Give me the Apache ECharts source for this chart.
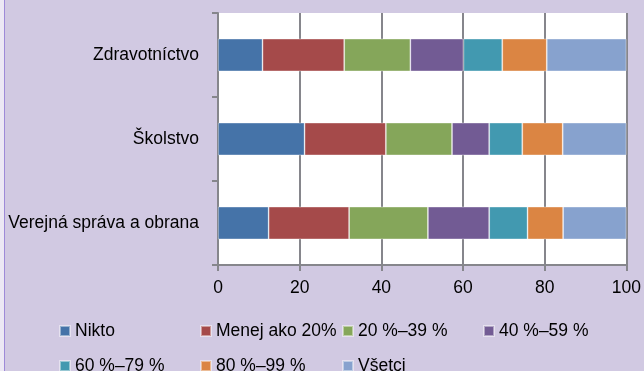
<!DOCTYPE html>
<html>
<head>
<meta charset="utf-8">
<script src="https://cdn.jsdelivr.net/npm/echarts@6/dist/echarts.min.js"></script>
<style>
  html, body { margin: 0; padding: 0; background: #D1C9E2; }
  #chart { width: 644px; height: 371px; }
</style>
</head>
<body>
<div id="chart"></div>
<script>
// Sectors, listed bottom-to-top as the category axis draws them
const categories = ['Verejná správa a obrana', 'Školstvo', 'Zdravotníctvo'];

// Share of respondents (%) for each answer band
const nikto     = [12.4, 21.2, 10.9];
const menej20   = [19.7, 19.9, 20.0];
const p20_39    = [19.3, 16.2, 16.2];
const p40_59    = [15.0,  9.1, 13.0];
const p60_79    = [ 9.4,  8.1,  9.5];
const p80_99    = [ 8.7,  9.9, 10.9];
const vsetci    = [15.5, 15.6, 19.5];

const seriesNames = ['Nikto', 'Menej ako 20%', '20 %–39 %', '40 %–59 %', '60 %–79 %', '80 %–99 %', 'Všetci'];
const seriesValues = [nikto, menej20, p20_39, p40_59, p60_79, p80_99, vsetci];
const colors = ['#4573A8', '#A54A4A', '#85A65A', '#725B94', '#4299B0', '#DB8543', '#87A2CE'];

const xTicks = { min: 0, max: 100, interval: 20 };

const FONT = "'Liberation Sans', Arial, sans-serif";
const gridGrey = '#86868C';

// Legend laid out as a 4-column grid, one legend component per entry
const legendCols = [59, 200, 342, 483];
const legendRows = [321, 356];
const legends = seriesNames.map((name, i) => ({
  data: [name],
  left: legendCols[i % 4],
  top: legendRows[Math.floor(i / 4)],
  padding: 0,
  itemWidth: 10,
  itemHeight: 10,
  icon: 'rect',
  selectedMode: false,
  textStyle: { fontFamily: FONT, fontSize: 17.5, color: '#000', lineHeight: 20 }
}));

const chart = echarts.init(document.getElementById('chart'), null, { renderer: 'canvas' });
chart.setOption({
  backgroundColor: '#D1C9E2',
  animation: false,
  color: colors,
  grid: { left: 218, right: 14, top: 13, bottom: 106, containLabel: false,
          show: true, backgroundColor: '#FFFFFF', borderWidth: 0 },
  legend: legends,
  xAxis: {
    type: 'value',
    min: xTicks.min, max: xTicks.max, interval: xTicks.interval,
    axisLine: { show: true, lineStyle: { color: gridGrey, width: 2 } },
    axisTick: { show: true, length: 6, lineStyle: { color: gridGrey, width: 2 } },
    splitLine: { show: true, lineStyle: { color: gridGrey, width: 2 } },
    axisLabel: { fontFamily: FONT, fontSize: 17.5, color: '#000', margin: 14 }
  },
  yAxis: {
    type: 'category',
    data: categories,
    axisLine: { show: true, lineStyle: { color: gridGrey, width: 2 } },
    axisTick: { show: true, length: 6, alignWithLabel: false, lineStyle: { color: gridGrey, width: 2 } },
    axisLabel: { fontFamily: FONT, fontSize: 17.5, color: '#000', margin: 19 }
  },
  series: seriesNames.map((name, i) => ({
    name: name,
    type: 'bar',
    stack: 'total',
    barWidth: '39%',
    data: seriesValues[i],
    itemStyle: { borderColor: 'rgba(255,255,255,0.45)', borderWidth: 0.8 }
  })),
  graphic: [
    { type: 'rect', left: 0, top: 0, shape: { x: 0, y: 0, width: 4, height: 371 },
      style: { fill: '#ECE8F4' } },
    { type: 'line', shape: { x1: 4.5, y1: 0, x2: 4.5, y2: 371 },
      style: { stroke: '#9E8AD8', lineWidth: 1 } }
  ]
});
</script>
</body>
</html>
